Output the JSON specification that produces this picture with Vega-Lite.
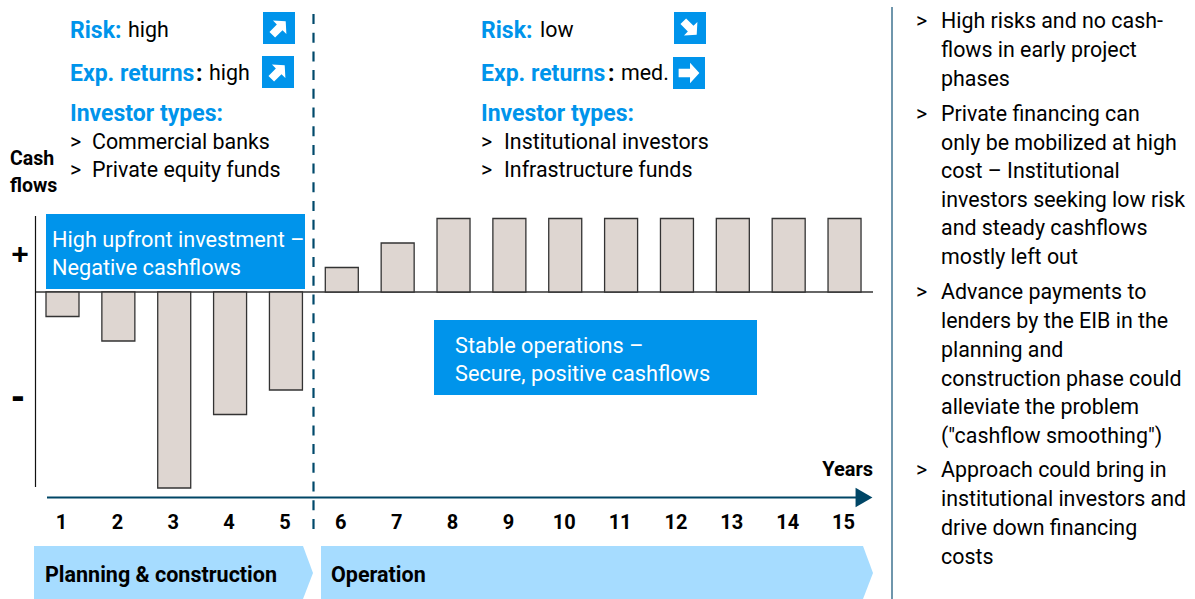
{"$schema":"https://vega.github.io/schema/vega-lite/v6.json","width":1195,"height":599,"padding":0,"autosize":"none","background":"white","config":{"view":{"stroke":null},"text":{"font":"Roboto"}},"resolve":{"scale":{"x":"independent","y":"independent"}},"layer":[
{"encoding":{"x":{"field":"px","type":"quantitative","scale":{"domain":[0,1195],"zero":false,"nice":false},"axis":null},"y":{"field":"py","type":"quantitative","scale":{"domain":[599,0],"zero":false,"nice":false},"axis":null}},
"layer":[
{"data":{"values":[{"banner":"a","px":34,"py":546,"py2":599},{"banner":"a","px":303,"py":546,"py2":599},{"banner":"a","px":313,"py":573,"py2":573},{"banner":"b","px":321,"py":546,"py2":599},{"banner":"b","px":863,"py":546,"py2":599},{"banner":"b","px":873,"py":573,"py2":573}]},"mark":{"type":"area","color":"#A6DCFF","opacity":1,"orient":"vertical"},"encoding":{"y2":{"field":"py2"},"detail":{"field":"banner"}}},
{"data":{"values":[{"px":35.5,"py":216,"py2":487}]},"mark":{"type":"rule","color":"#111111","strokeWidth":1.2},"encoding":{"y2":{"field":"py2"}}},
{"data":{"values":[{"px":892,"py":7,"py2":599}]},"mark":{"type":"rule","color":"#3F7391","strokeWidth":1.5},"encoding":{"y2":{"field":"py2"}}},
{"data":{"values":[{"px":36,"px2":873,"py":292}]},"mark":{"type":"rule","color":"#333333","strokeWidth":1.3},"encoding":{"x2":{"field":"px2"}}},
{"data":{"values":[{"px":47,"px2":858,"py":497.5}]},"mark":{"type":"rule","color":"#004666","strokeWidth":2},"encoding":{"x2":{"field":"px2"}}},
{"data":{"values":[{"px":864,"py":497.5}]},"mark":{"type":"point","shape":"triangle-right","filled":true,"color":"#004666","size":380,"opacity":1}},
{"data":{"values":[{"px":46,"px2":305,"py":214,"py2":289},{"px":434,"px2":757,"py":320,"py2":395},{"px":263,"px2":295,"py":12,"py2":44},{"px":262,"px2":294,"py":56,"py2":88},{"px":674,"px2":706,"py":12,"py2":44},{"px":673,"px2":705,"py":57,"py2":89}]},"mark":{"type":"rect","color":"#0094EB"},"encoding":{"x2":{"field":"px2"},"y2":{"field":"py2"}}},
{"data":{"values":[{"px":279,"py":28},{"px":278,"py":72}]},"mark":{"type":"point","shape":"M-1,-0.42L0.1,-0.42L0.1,-1L1,0L0.1,1L0.1,0.42L-1,0.42Z","filled":true,"color":"white","size":360,"opacity":1,"angle":315}},
{"data":{"values":[{"px":690,"py":28}]},"mark":{"type":"point","shape":"M-1,-0.42L0.1,-0.42L0.1,-1L1,0L0.1,1L0.1,0.42L-1,0.42Z","filled":true,"color":"white","size":360,"opacity":1,"angle":45}},
{"data":{"values":[{"px":689,"py":73}]},"mark":{"type":"point","shape":"M-1,-0.42L0.1,-0.42L0.1,-1L1,0L0.1,1L0.1,0.42L-1,0.42Z","filled":true,"color":"white","size":430,"opacity":1,"angle":0}},
{"data":{"values":[{"px":313.5,"py":14,"py2":537}]},"mark":{"type":"rule","color":"#00496B","strokeWidth":2.2,"strokeDash":[10,8.7]},"encoding":{"y2":{"field":"py2"}}},
{"data":{"values":[{"px":70,"py":31,"t":"Risk:"},{"px":70,"py":74,"t":"Exp. returns"},{"px":70,"py":114,"t":"Investor types:"},{"px":481,"py":31,"t":"Risk:"},{"px":481,"py":74,"t":"Exp. returns"},{"px":481,"py":114,"t":"Investor types:"}]},"mark":{"type":"text","align":"left","baseline":"middle","font":"Roboto","fontWeight":"bold","fontSize":23,"color":"#0094EB"},"encoding":{"text":{"field":"t"}}},
{"data":{"values":[{"px":196,"py":74,"t":":"},{"px":608,"py":74,"t":":"}]},"mark":{"type":"text","align":"left","baseline":"middle","font":"Roboto","fontWeight":"bold","fontSize":23,"color":"#000000"},"encoding":{"text":{"field":"t"}}},
{"data":{"values":[{"px":45,"py":576,"t":"Planning & construction"},{"px":331,"py":576,"t":"Operation"}]},"mark":{"type":"text","align":"left","baseline":"middle","font":"Roboto","fontWeight":"bold","fontSize":21.5,"color":"#000000"},"encoding":{"text":{"field":"t"}}},
{"data":{"values":[{"px":10,"py":159,"t":"Cash"},{"px":10,"py":186,"t":"flows"}]},"mark":{"type":"text","align":"left","baseline":"middle","font":"Roboto","fontWeight":"bold","fontSize":19.5,"color":"#000000"},"encoding":{"text":{"field":"t"}}},
{"data":{"values":[{"px":873,"py":470,"t":"Years"}]},"mark":{"type":"text","align":"right","baseline":"middle","font":"Roboto","fontWeight":"bold","fontSize":20,"color":"#000000"},"encoding":{"text":{"field":"t"}}},
{"data":{"values":[{"px":20,"py":255,"t":"+"}]},"mark":{"type":"text","align":"center","baseline":"middle","font":"Liberation Sans","fontWeight":"bold","fontSize":30,"color":"#000000"},"encoding":{"text":{"field":"t"}}},
{"data":{"values":[{"px":18,"py":397,"t":"-"}]},"mark":{"type":"text","align":"center","baseline":"middle","font":"Liberation Sans","fontWeight":"bold","fontSize":40,"color":"#000000"},"encoding":{"text":{"field":"t"}}},
{"data":{"values":[{"px":128,"py":31,"t":"high"},{"px":209,"py":74,"t":"high"},{"px":540,"py":31,"t":"low"},{"px":621,"py":74,"t":"med."},{"px":70,"py":143,"t":">"},{"px":92,"py":143,"t":"Commercial banks"},{"px":70,"py":171,"t":">"},{"px":92,"py":171,"t":"Private equity funds"},{"px":481,"py":143,"t":">"},{"px":504,"py":143,"t":"Institutional investors"},{"px":481,"py":171,"t":">"},{"px":504,"py":171,"t":"Infrastructure funds"},
{"px":916,"py":22,"t":">"},{"px":941,"py":22,"t":"High risks and no cash-"},{"px":941,"py":50.5,"t":"flows in early project"},{"px":941,"py":79.5,"t":"phases"},
{"px":916,"py":115,"t":">"},{"px":941,"py":115,"t":"Private financing can"},{"px":941,"py":143.5,"t":"only be mobilized at high"},{"px":941,"py":172,"t":"cost – Institutional"},{"px":941,"py":200.5,"t":"investors seeking low risk"},{"px":941,"py":229,"t":"and steady cashflows"},{"px":941,"py":257.5,"t":"mostly left out"},
{"px":916,"py":293,"t":">"},{"px":941,"py":293,"t":"Advance payments to"},{"px":941,"py":322,"t":"lenders by the EIB in the"},{"px":941,"py":351,"t":"planning and"},{"px":941,"py":379.5,"t":"construction phase could"},{"px":941,"py":408,"t":"alleviate the problem"},{"px":941,"py":436.5,"t":"(\"cashflow smoothing\")"},
{"px":916,"py":471,"t":">"},{"px":941,"py":471,"t":"Approach could bring in"},{"px":941,"py":500,"t":"institutional investors and"},{"px":941,"py":529,"t":"drive down financing"},{"px":941,"py":557.5,"t":"costs"}]},"mark":{"type":"text","align":"left","baseline":"middle","font":"Roboto","fontSize":21.4,"color":"#000000"},"encoding":{"text":{"field":"t"}}},
{"data":{"values":[{"px":52,"py":240,"t":"High upfront investment –"},{"px":52,"py":268,"t":"Negative cashflows"},{"px":455,"py":346,"t":"Stable operations –"},{"px":455,"py":374,"t":"Secure, positive cashflows"}]},"mark":{"type":"text","align":"left","baseline":"middle","font":"Roboto","fontSize":21.7,"color":"#FFFFFF"},"encoding":{"text":{"field":"t"}}}
]},
{"data":{"values":[{"year":1,"cashflow":-1},{"year":2,"cashflow":-2},{"year":3,"cashflow":-8},{"year":4,"cashflow":-5},{"year":5,"cashflow":-4},{"year":6,"cashflow":1},{"year":7,"cashflow":2},{"year":8,"cashflow":3},{"year":9,"cashflow":3},{"year":10,"cashflow":3},{"year":11,"cashflow":3},{"year":12,"cashflow":3},{"year":13,"cashflow":3},{"year":14,"cashflow":3},{"year":15,"cashflow":3}]},
"encoding":{"x":{"field":"year","type":"quantitative","scale":{"domain":[-0.1189,21.274],"zero":false,"nice":false,"padding":0},"axis":null}},
"layer":[
{"mark":{"type":"bar","size":33,"color":"#DED6D1","stroke":"#333333","strokeWidth":1.3},"encoding":{"y":{"field":"cashflow","type":"quantitative","scale":{"domain":[-12.531,11.918],"zero":false,"nice":false},"axis":null}}},
{"mark":{"type":"text","align":"center","baseline":"middle","dx":-1,"font":"Roboto","fontWeight":"bold","fontSize":20,"color":"#000000"},"encoding":{"text":{"field":"year","type":"quantitative"},"y":{"datum":-9.43,"type":"quantitative","scale":{"domain":[-12.531,11.918],"zero":false,"nice":false},"axis":null}}}
]}
]}
